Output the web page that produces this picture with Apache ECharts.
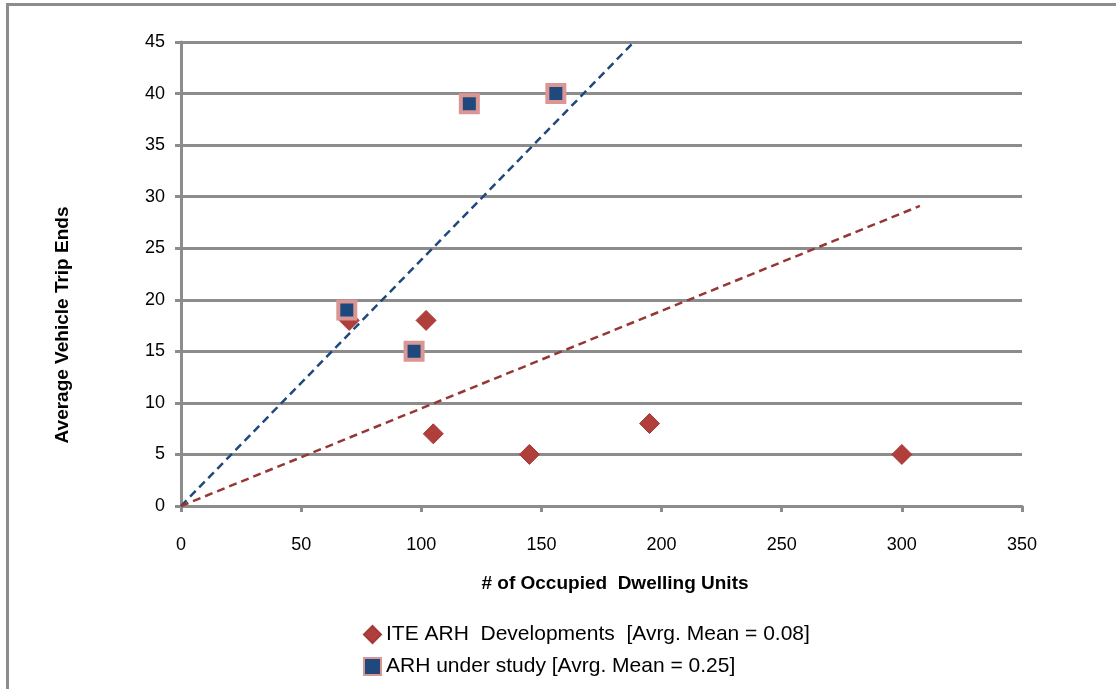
<!DOCTYPE html>
<html>
<head>
<meta charset="utf-8">
<script src="https://cdn.jsdelivr.net/npm/echarts@6/dist/echarts.min.js"></script>
<style>
  html, body { margin: 0; padding: 0; background: #fff; }
  #chart { width: 1116px; height: 689px; }
</style>
</head>
<body>
<div id="chart"></div>
<script>
// values
const iteUnits = [70, 102, 105, 145, 195, 300];
const iteTrips = [18, 18, 7, 5, 8, 5];
const arhUnits = [69, 97, 120, 156];
const arhTrips = [19, 15, 39, 40];
const arhTrendEnd = [188.5, 45];
const iteTrendEnd = [307.5, 29.1];
const xMax = 350, xStep = 50;
const yMax = 45, yStep = 5;

const iteName = "ITE ARH  Developments  [Avrg. Mean = 0.08]";
const arhName = "ARH under study [Avrg. Mean = 0.25]";

const FONT = "Liberation Sans";
const GRID_GRAY = "#8c8c8c";

const chart = echarts.init(document.getElementById("chart"), null, { renderer: "canvas" });

chart.setOption({
  animation: false,
  textStyle: { fontFamily: FONT },
  grid: { left: 181, right: 94, top: 42, bottom: 183 },
  xAxis: {
    type: "value",
    min: 0, max: xMax, interval: xStep,
    axisLine: { lineStyle: { color: GRID_GRAY, width: 3 } },
    axisTick: { show: true, length: 6, lineStyle: { color: GRID_GRAY, width: 3 } },
    axisLabel: { color: "#000", fontSize: 18, margin: 30, fontFamily: FONT },
    splitLine: { show: false }
  },
  yAxis: {
    type: "value",
    min: 0, max: yMax, interval: yStep,
    axisLine: { show: true, lineStyle: { color: GRID_GRAY, width: 3 } },
    axisTick: { show: true, length: 6, lineStyle: { color: GRID_GRAY, width: 3 } },
    axisLabel: { color: "#000", fontSize: 18, margin: 16, fontFamily: FONT },
    splitLine: { lineStyle: { color: GRID_GRAY, width: 3 } }
  },
  legend: {
    orient: "vertical",
    left: 358, top: 619,
    itemGap: 11,
    itemWidth: 17, itemHeight: 17,
    itemTextGap: 6,
    textStyle: { fontSize: 21, color: "#000", fontFamily: FONT },
    data: [iteName, arhName]
  },
  graphic: [
    { type: "rect", shape: { x: 7.5, y: 4.5, width: 1200, height: 800 }, style: { fill: "none", stroke: "#8c8c8c", lineWidth: 3 }, silent: true },
    { type: "text", x: 615, y: 584, style: { text: "# of Occupied  Dwelling Units", font: "bold 19px " + FONT, fill: "#000", align: "center", verticalAlign: "middle" } },
    { type: "text", x: 63, y: 325, rotation: Math.PI / 2, style: { text: "Average Vehicle Trip Ends", font: "bold 19px " + FONT, fill: "#000", align: "center", verticalAlign: "middle" } }
  ],
  series: [
    {
      name: "arhTrend", type: "line",
      data: [[0, 0], arhTrendEnd],
      symbol: "none", silent: true,
      lineStyle: { color: "#1f497d", width: 2.5, type: [8, 5] },
      z: 2
    },
    {
      name: "iteTrend", type: "line",
      data: [[0, 0], iteTrendEnd],
      symbol: "none", silent: true,
      lineStyle: { color: "#953735", width: 2.5, type: [8, 5] },
      z: 2
    },
    {
      name: iteName, type: "scatter",
      data: iteUnits.map((u, i) => [u, iteTrips[i]]),
      symbol: "diamond", symbolSize: 20,
      itemStyle: { color: "#b03f3c", borderColor: "#a33a37", borderWidth: 1, opacity: 1 },
      z: 3
    },
    {
      name: arhName, type: "scatter",
      data: arhUnits.map((u, i) => [u, arhTrips[i]]),
      symbol: "rect", symbolSize: 17,
      itemStyle: { color: "#1f497d", borderColor: "#d99694", borderWidth: 4, opacity: 1 },
      z: 4
    }
  ]
});
</script>
</body>
</html>
